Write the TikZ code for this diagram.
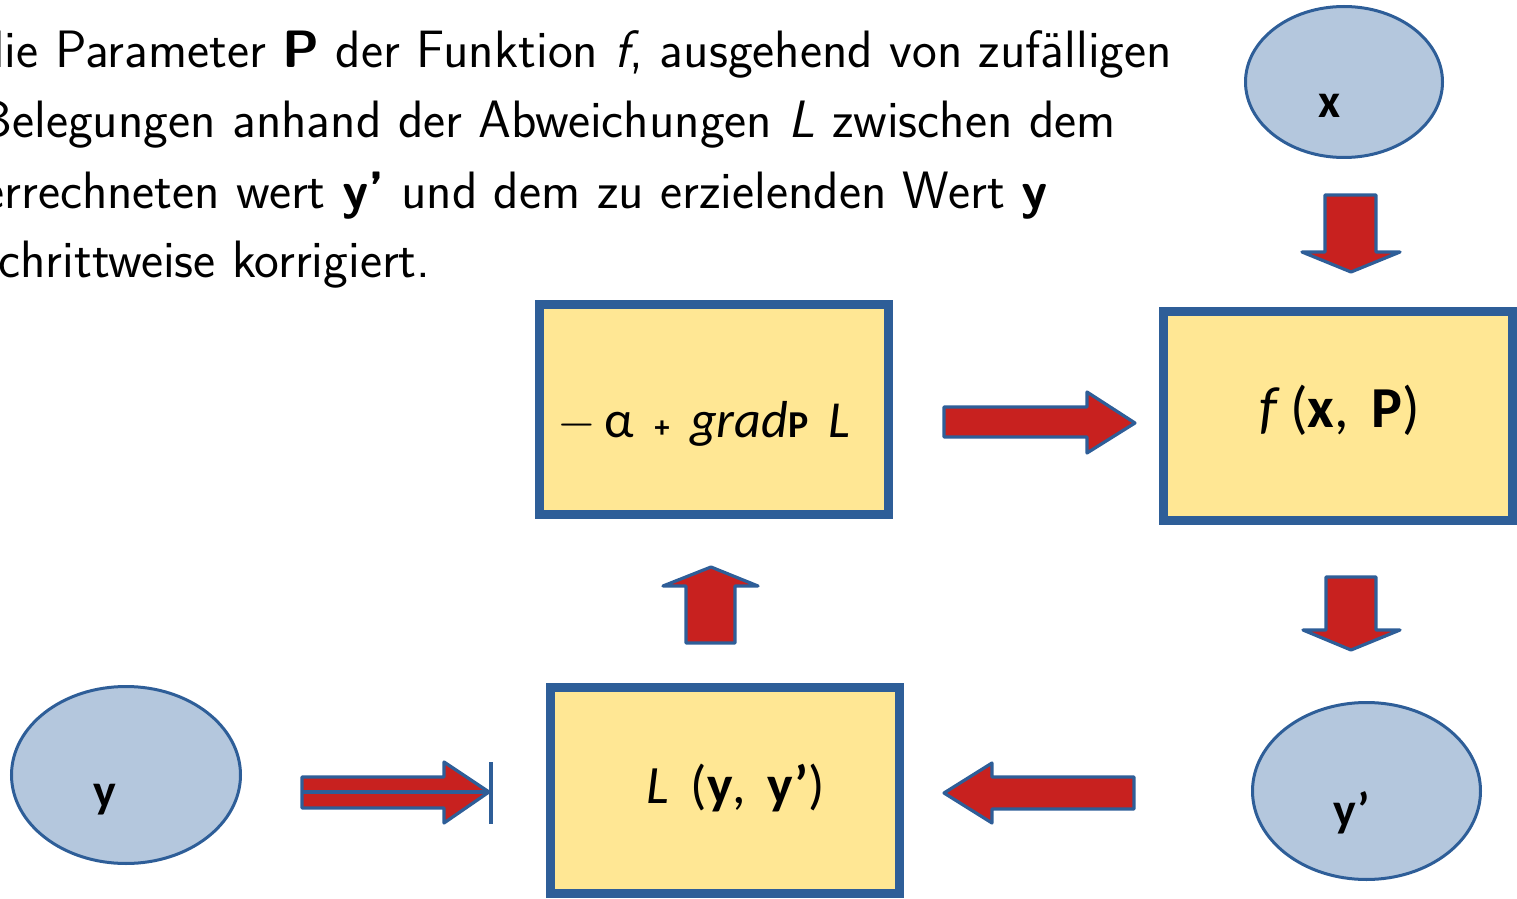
\documentclass[tikz,border=0pt]{standalone}
\usepackage{fontspec}
\usetikzlibrary{shapes.geometric}
\newfontfamily\calfont{Carlito}
\definecolor{bl}{HTML}{2E5E98}
\definecolor{lb}{HTML}{B4C7DD}
\definecolor{yel}{HTML}{FFE794}
\definecolor{rd}{HTML}{C8211F}
\tikzset{
  ell/.style={ellipse, draw=bl, fill=lb, line width=1.5pt, inner sep=0pt},
  boxnode/.style={rectangle, draw=bl, fill=yel, line width=4.5pt, inner sep=0pt, minimum width=174.5pt},
  barrow/.style={draw=bl, fill=rd, line width=1.6pt, line join=round},
  txt/.style={anchor=base west, inner sep=0pt, font=\sffamily\fontsize{26.3}{35}\selectfont},
  lbl/.style={inner sep=0pt, font=\calfont\fontsize{26}{30}\selectfont},
  elbl/.style={inner sep=0pt, font=\calfont\bfseries\fontsize{24}{28}\selectfont},
}
\begin{document}
\begin{tikzpicture}[x=0.5pt,y=-0.5pt]
\useasboundingbox (0,0) rectangle (1517,899);
\clip (0,0) rectangle (1517,899);

% text
\node[txt] (t1) at (-21,68) {die Parameter \textbf{P} der Funktion \textit{f}, ausgehend von zufälligen};
\node[txt] (t2) at (-21,138) {Belegungen anhand der Abweichungen \textit{L} zwischen dem};
\node[txt] (t3) at (-18,208) {errechneten wert \textbf{y’} und dem zu erzielenden Wert \textbf{y}};
\node[txt] (t4) at (-21,278) {schrittweise korrigiert.};

% ellipses
\node[ell, minimum width=98.5pt, minimum height=75.5pt] (ex) at (1344,82) {};
\node[elbl] (lx) at (1330,106) {x};
\node[ell, minimum width=114.5pt, minimum height=88.5pt] (ey) at (126,775) {};
\node[elbl] (ly) at (105,800) {y};
\node[ell, minimum width=114pt, minimum height=88.5pt] (eyp) at (1366.5,791) {};
\node[elbl] (lyp) at (1352,813) {y’};

% boxes
\node[boxnode, minimum height=105pt] (grad) at (714,409.5) {};
\node[lbl, anchor=base] (gradt) at (704,437) {$-$\,α\, {\bfseries\fontsize{15}{16}\selectfont +}\, \textit{grad}{\bfseries\fontsize{19}{18}\selectfont P}\, \textit{L}};
\node[boxnode, minimum height=104.5pt] (fx) at (1338,416) {};
\node[lbl, anchor=base, font=\calfont\fontsize{29}{32}\selectfont] (fxt) at (1340,427) {\textit{f}\,(\textbf{x},\, \textbf{P})};
\node[boxnode, minimum height=103pt] (loss) at (725,790.5) {};
\node[lbl, anchor=base, font=\calfont\fontsize{27}{30}\selectfont] (losst) at (736,803) {\textit{L}\, (\textbf{y},\, \textbf{y’})};

% block arrows
\draw[barrow] (1325,195) -- (1376,195) -- (1376,252) -- (1400,252) -- (1351,272) -- (1302,252) -- (1325,252) -- cycle;
\draw[barrow] (1326,577) -- (1376,577) -- (1376,630) -- (1400,630) -- (1351,650) -- (1303,630) -- (1326,630) -- cycle;
\draw[barrow] (686,643) -- (735,643) -- (735,586) -- (758,586) -- (711,567) -- (663,586) -- (686,586) -- cycle;
\draw[barrow] (944,407) -- (1087,407) -- (1087,392) -- (1135,423) -- (1087,453) -- (1087,437) -- (944,437) -- cycle;
\draw[barrow] (1134,777) -- (992,777) -- (992,763) -- (944,793) -- (992,823) -- (992,809) -- (1134,809) -- cycle;
\draw[barrow] (302,777) -- (444,777) -- (444,762) -- (489,792) -- (444,823) -- (444,808) -- (302,808) -- cycle;
\coordinate (ys) at (302,792);
\coordinate (ye) at (489,792);
\draw[bl, line width=1.6pt] (ys) -- (ye);
\draw[bl, line width=1.6pt] (491,762) -- (491,824);
\end{tikzpicture}
\end{document}
